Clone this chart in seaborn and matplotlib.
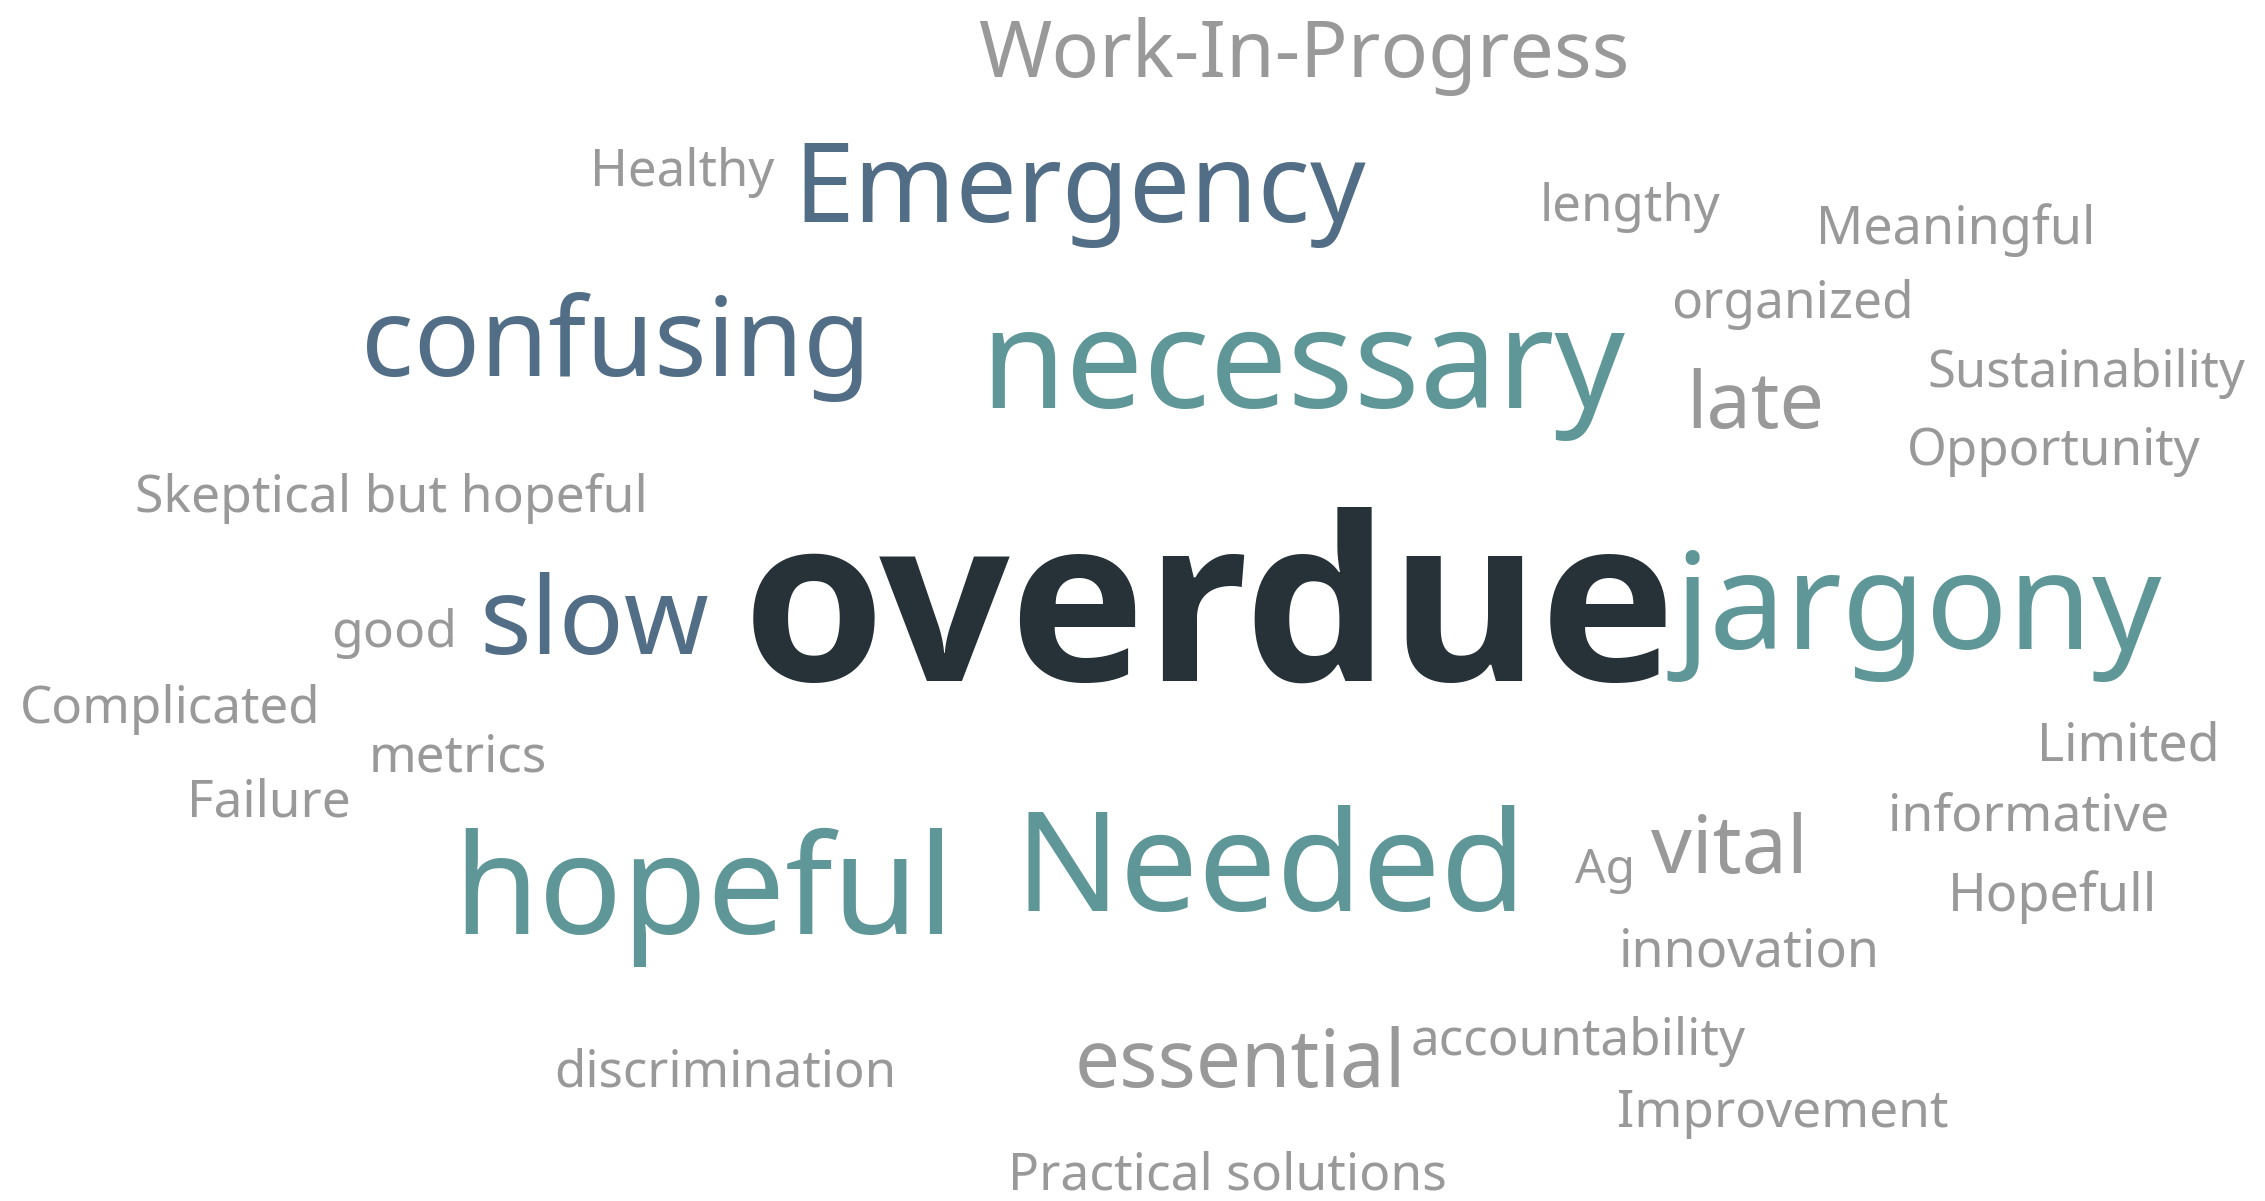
import matplotlib
matplotlib.use("Agg")
import matplotlib.pyplot as plt
from matplotlib import font_manager as fm
import numpy as np
import seaborn as sns

# ---- data: words and how often they were given ----
words = ["Work-In-Progress", "Healthy", "Emergency", "lengthy", "Meaningful",
         "organized", "confusing", "necessary", "late", "Sustainability",
         "Opportunity", "Skeptical but hopeful", "overdue", "jargony", "slow",
         "good", "Complicated", "metrics", "Failure", "hopeful", "Needed", "Ag",
         "vital", "Limited", "informative", "Hopefull", "innovation",
         "discrimination", "essential", "accountability", "Improvement",
         "Practical solutions"]
counts = [3, 1, 4, 1, 1,
          1, 4, 5, 3, 1,
          1, 1, 12, 5, 4,
          1, 1, 1, 1, 5, 5, 1,
          3, 1, 1, 1, 1,
          1, 3, 1, 1,
          1]

# ---- layout of the cloud (ink extents, preview pixels, 1568 x 831 frame) ----
lefts = [678, 412, 557, 1069, 1261,
         1159, 254, 687, 1172, 1336,
         1322, 95, 521, 1154, 336,
         231, 16, 258, 133, 322, 712, 1090,
         1143, 1414, 1310, 1352, 1124,
         386, 747, 978, 1121,
         701]
rights = [1125, 536, 946, 1191, 1448,
          1322, 596, 1125, 1260, 1554,
          1523, 445, 1153, 1496, 490,
          313, 219, 377, 241, 652, 1049, 1129,
          1247, 1534, 1500, 1490, 1299,
          618, 969, 1208, 1348,
          1000]
baselines = [53, 128.5, 153.6, 153, 169,
             220, 260, 282.6, 296, 268,
             322, 354, 471, 449, 452.5,
             447.5, 500.5, 534, 565, 646.6, 630, 611,
             604, 526, 574.5, 630, 669,
             752, 752, 730, 779.5,
             823]

W, H = 1568, 831
DPI = 100


def word_color(c):
    if c >= 10:
        return "#263238"
    if c == 5:
        return "#5f9798"
    if c == 4:
        return "#526d86"
    return "#999999"


def bold_font():
    # pick a real bold face file so the heavy word is not faked
    for fam in ("Noto Sans", "Open Sans", "Lato", "Roboto"):
        for f in fm.fontManager.ttflist:
            w = f.weight if isinstance(f.weight, int) else {"bold": 700}.get(f.weight, 400)
            if f.name == fam and w == 700 and f.style == "normal" and f.stretch == "normal":
                return fm.FontProperties(fname=f.fname)
    return fm.FontProperties(family="Noto Sans", weight="bold")


def ink_extent(text, fp):
    # render the word alone at 100 pt and return (left offset, width) of its ink in px
    tmp = plt.figure(figsize=(26, 3), dpi=DPI)
    p = fp.copy()
    p.set_size(100)
    tmp.text(100 / (26 * DPI), 0.5, text, ha="left", va="baseline",
             fontproperties=p, color="black")
    tmp.canvas.draw()
    buf = np.asarray(tmp.canvas.buffer_rgba())[..., 0]
    cols = np.where((buf < 200).any(axis=0))[0]
    plt.close(tmp)
    return cols[0] - 100, cols[-1] - cols[0] + 1


sns.set_theme(style="white")
plt.rcParams["font.family"] = ["Noto Sans", "DejaVu Sans"]

heavy = bold_font()
props = []
for c in counts:
    props.append(heavy.copy() if c >= 10
                 else fm.FontProperties(family=["Noto Sans", "DejaVu Sans"]))

fig = plt.figure(figsize=(22.65, 12.01), dpi=DPI)
ax = fig.add_axes([0, 0, 1, 1])
ax.set_xlim(0, W)
ax.set_ylim(H, 0)
ax.axis("off")

px_per_unit = fig.bbox.width / W

for w, c, fp, x0, x1, y in zip(words, counts, props, lefts, rights, baselines):
    off, ink_w = ink_extent(w, fp)
    size = 100 * (x1 - x0) * px_per_unit / ink_w
    shift = off * (size / 100) / px_per_unit
    fp.set_size(size)
    ax.text(x0 - shift, y, w, ha="left", va="baseline", fontproperties=fp,
            color=word_color(c))

fig.savefig("out.png", dpi=DPI, facecolor="white")
